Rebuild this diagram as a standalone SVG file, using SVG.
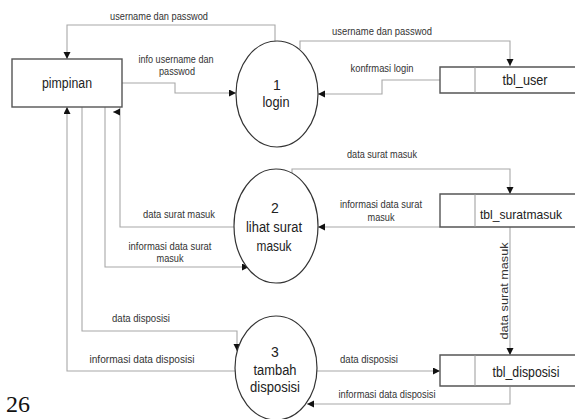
<svg xmlns="http://www.w3.org/2000/svg" width="575" height="419" viewBox="0 0 575 419">
<style>
.lbl{font-family:"Liberation Sans",Arial,sans-serif;font-size:10.5px;fill:#333;text-anchor:middle}
.nd{font-family:"Liberation Sans",Arial,sans-serif;font-size:14px;fill:#222;text-anchor:middle}
.st{font-family:"Liberation Sans",Arial,sans-serif;font-size:14.5px;fill:#222;text-anchor:middle}
.pg{font-family:"Liberation Serif","Times New Roman",serif;font-size:24px;fill:#111}
.box{fill:#fff;stroke:#555;stroke-width:1.4}
.proc{fill:#fff;stroke:#333;stroke-width:1.2}
.store{fill:#fff;stroke:#555;stroke-width:1.4}
.div{stroke:#999;stroke-width:1}
.c{fill:none;stroke:#a8a8a8;stroke-width:1.1;marker-end:url(#arr)}
</style>
<defs>
<marker id="arr" markerUnits="userSpaceOnUse" markerWidth="8" markerHeight="8" refX="7" refY="3.5" orient="auto">
<path d="M0,0 L7,3.5 L0,7 z" fill="#111"/>
</marker>
</defs>
<rect width="575" height="419" fill="#fff"/>
<g id="connectors">
<path class="c" d="M275,42 V25 H67 V59"/>
<path class="c" d="M122,83 H175 V93 H236"/>
<path class="c" d="M300,49 V41 H510 V66"/>
<path class="c" d="M440,80 H382 V94 H318"/>
<path class="c" d="M292,173 V169 H510 V194"/>
<path class="c" d="M440,227 H318"/>
<path class="c" d="M234,227 H120 V107 M120,112 H113"/>
<path class="c" d="M105,107 V267 H249"/>
<path class="c" d="M82,107 V331 H237 V351"/>
<path class="c" d="M235,371 H67 V107"/>
<path class="c" d="M510,227 V355"/>
<path class="c" d="M317,371 H440"/>
<path class="c" d="M510,387 V404 H307"/>
<text class="lbl" x="159" y="20" textLength="98" lengthAdjust="spacingAndGlyphs">username dan passwod</text>
<text class="lbl" x="176" y="63" textLength="75" lengthAdjust="spacingAndGlyphs">info username dan</text>
<text class="lbl" x="177" y="75" textLength="36" lengthAdjust="spacingAndGlyphs">passwod</text>
<text class="lbl" x="382" y="35" textLength="100" lengthAdjust="spacingAndGlyphs">username dan passwod</text>
<text class="lbl" x="382" y="72" textLength="63" lengthAdjust="spacingAndGlyphs">konfrmasi login</text>
<text class="lbl" x="382" y="158" textLength="70" lengthAdjust="spacingAndGlyphs">data surat masuk</text>
<text class="lbl" x="381" y="208" textLength="82" lengthAdjust="spacingAndGlyphs">informasi data surat</text>
<text class="lbl" x="381" y="221" textLength="27" lengthAdjust="spacingAndGlyphs">masuk</text>
<text class="lbl" x="179" y="218" textLength="72" lengthAdjust="spacingAndGlyphs">data surat masuk</text>
<text class="lbl" x="170" y="250" textLength="83" lengthAdjust="spacingAndGlyphs">informasi data surat</text>
<text class="lbl" x="170" y="262" textLength="27" lengthAdjust="spacingAndGlyphs">masuk</text>
<text class="lbl" x="141" y="322" textLength="58" lengthAdjust="spacingAndGlyphs">data disposisi</text>
<text class="lbl" x="142" y="363" textLength="105" lengthAdjust="spacingAndGlyphs">informasi data disposisi</text>
<text class="lbl" x="369" y="363" textLength="58" lengthAdjust="spacingAndGlyphs">data disposisi</text>
<text class="lbl" x="387" y="398" textLength="97" lengthAdjust="spacingAndGlyphs">informasi data disposisi</text>
<text class="lbl" transform="translate(508,291) rotate(-90)" x="0" y="0" style="font-size:11.5px" textLength="97" lengthAdjust="spacingAndGlyphs">data surat masuk</text>
</g>
<g id="pimpinan">
<rect class="box" x="12" y="59" width="110" height="48"/>
<text class="nd" x="67" y="88" textLength="50" lengthAdjust="spacingAndGlyphs">pimpinan</text>
</g>
<g id="proc1">
<ellipse class="proc" cx="277" cy="94" rx="41" ry="53"/>
<text class="nd" x="277" y="90">1</text>
<text class="nd" x="276" y="107" textLength="27" lengthAdjust="spacingAndGlyphs">login</text>
</g>
<g id="proc2">
<ellipse class="proc" cx="276" cy="226" rx="42" ry="57"/>
<text class="nd" x="275" y="213">2</text>
<text class="nd" x="274" y="232" textLength="56" lengthAdjust="spacingAndGlyphs">lihat surat</text>
<text class="nd" x="274" y="251" textLength="35" lengthAdjust="spacingAndGlyphs">masuk</text>
</g>
<g id="proc3">
<ellipse class="proc" cx="276" cy="368" rx="41" ry="52"/>
<text class="nd" x="275" y="357">3</text>
<text class="nd" x="275" y="375" textLength="43" lengthAdjust="spacingAndGlyphs">tambah</text>
<text class="nd" x="275" y="392" textLength="50" lengthAdjust="spacingAndGlyphs">disposisi</text>
</g>
<g id="tbl_user">
<path class="store" d="M575,67 H440 V93 H575"/>
<line class="div" x1="475" y1="67" x2="475" y2="93"/>
<text class="st" x="525" y="85" textLength="45" lengthAdjust="spacingAndGlyphs">tbl_user</text>
</g>
<g id="tbl_suratmasuk">
<path class="store" d="M575,194 H440 V227 H575"/>
<line class="div" x1="475" y1="194" x2="475" y2="227"/>
<text class="st" x="521" y="219" style="font-size:13.5px" textLength="82" lengthAdjust="spacingAndGlyphs">tbl_suratmasuk</text>
</g>
<g id="tbl_disposisi">
<path class="store" d="M575,355 H440 V386 H575"/>
<line class="div" x1="475" y1="355" x2="475" y2="386"/>
<text class="st" x="526" y="377" textLength="67" lengthAdjust="spacingAndGlyphs">tbl_disposisi</text>
</g>
<text class="pg" x="6" y="412">26</text>
</svg>
